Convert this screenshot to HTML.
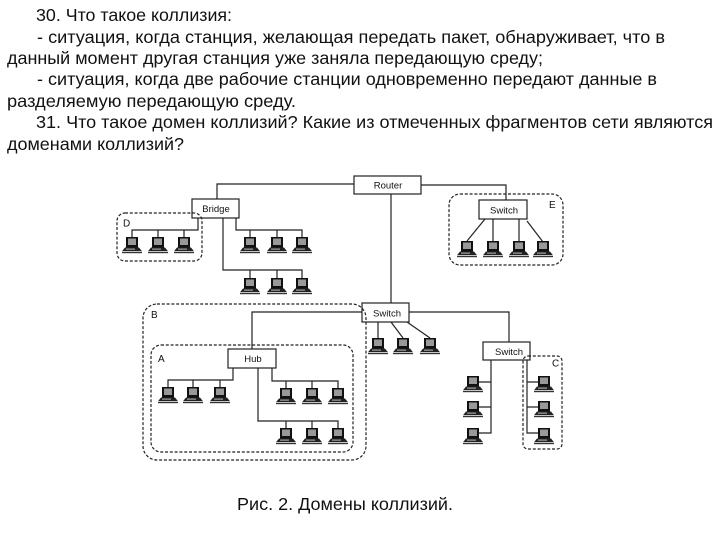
<!DOCTYPE html>
<html lang="ru">
<head>
<meta charset="utf-8">
<title>Домены коллизий</title>
<style>
html,body{margin:0;padding:0;background:#fff;width:720px;height:540px;overflow:hidden}
svg{display:block;filter:blur(.35px)}
.t{font-family:"Liberation Sans",Arial,sans-serif;font-size:17.3px;fill:#111}
.l{font-family:"Liberation Sans",Arial,sans-serif;font-size:10px;fill:#111}
.n{font-family:"Liberation Sans",Arial,sans-serif;font-size:9.5px;fill:#111;text-anchor:middle}
.w{stroke:#222;stroke-width:1.2;fill:none}
.b{stroke:#222;stroke-width:1.2;fill:#fff}
.d{stroke:#222;stroke-width:1.2;fill:none;stroke-dasharray:3 1.8}
</style>
</head>
<body>
<svg width="720" height="540" viewBox="0 0 720 540" xmlns="http://www.w3.org/2000/svg">
<defs>
<g id="pc">
<rect x="-6" y="0" width="12" height="10.5" fill="#111"/>
<rect x="-4" y="1.5" width="8" height="6.5" fill="#999"/>
<path d="M-7 10.5H7L10 14.2H-10Z" fill="#222"/>
<rect x="-6" y="11.6" width="9" height="1" fill="#bbb"/>
<rect x="-10" y="15" width="20" height="1.2" fill="#333"/>
</g>
</defs>
<rect width="720" height="540" fill="#fff"/>

<text class="t" x="36" y="21" textLength="196" lengthAdjust="spacingAndGlyphs">30. Что такое коллизия:</text>
<text class="t" x="37" y="43" textLength="628" lengthAdjust="spacingAndGlyphs">- ситуация, когда станция, желающая передать пакет, обнаруживает, что в</text>
<text class="t" x="7" y="64" textLength="536" lengthAdjust="spacingAndGlyphs">данный момент другая станция уже заняла передающую среду;</text>
<text class="t" x="37" y="85" textLength="620" lengthAdjust="spacingAndGlyphs">- ситуация, когда две рабочие станции одновременно передают данные в</text>
<text class="t" x="7" y="107" textLength="289" lengthAdjust="spacingAndGlyphs">разделяемую передающую среду.</text>
<text class="t" x="36" y="128" textLength="677" lengthAdjust="spacingAndGlyphs">31. Что такое домен коллизий? Какие из отмеченных фрагментов сети являются</text>
<text class="t" x="7" y="150" textLength="177" lengthAdjust="spacingAndGlyphs">доменами коллизий?</text>
<text class="t" x="237" y="510" textLength="216" lengthAdjust="spacingAndGlyphs">Рис. 2. Домены коллизий.</text>

<!-- connectors -->
<path class="w" d="M354 184H217V199"/>
<path class="w" d="M421 185H506V200"/>
<path class="w" d="M391 194V303"/>
<path class="w" d="M198 218V230H132V237M158 230V237M184 230V237"/>
<path class="w" d="M236 218V230H302V237M250 230V237M277 230V237"/>
<path class="w" d="M223 218V270H302V278M250 270V278M277 270V278"/>
<path class="w" d="M485 219L467 241M493 219V241M519 219V241M527 221L543 242"/>
<path class="w" d="M362 312H252V349"/>
<path class="w" d="M409 312H509V342"/>
<path class="w" d="M378 322V338M391 322L403 338M407 322L430 338"/>
<path class="w" d="M233 368V380H168V387M193 380V387M220 380V387"/>
<path class="w" d="M272 368V381H338V388M286 381V388M312 381V388"/>
<path class="w" d="M258 368V421H338V428M286 421V428M312 421V428"/>
<path class="w" d="M491 360V433H479M491 382H479M491 407H479"/>
<path class="w" d="M527 360V433H538M527 382H538M527 407H538"/>

<!-- devices -->
<rect class="b" x="354" y="176" width="67" height="18"/>
<text class="n" x="388" y="188.5">Router</text>
<rect class="b" x="192" y="199" width="47" height="19"/>
<text class="n" x="216" y="212">Bridge</text>
<rect class="b" x="479" y="200" width="48" height="19"/>
<text class="n" x="504" y="213.5">Switch</text>
<rect class="b" x="362" y="303" width="47" height="19"/>
<text class="n" x="387" y="316.5">Switch</text>
<rect class="b" x="483" y="342" width="47" height="18"/>
<text class="n" x="509" y="355">Switch</text>
<rect class="b" x="228" y="349" width="48" height="19"/>
<text class="n" x="253" y="362">Hub</text>

<!-- computers -->
<use href="#pc" x="132" y="237"/><use href="#pc" x="158" y="237"/><use href="#pc" x="184" y="237"/>
<use href="#pc" x="250" y="237"/><use href="#pc" x="277" y="237"/><use href="#pc" x="302" y="237"/>
<use href="#pc" x="250" y="278"/><use href="#pc" x="277" y="278"/><use href="#pc" x="302" y="278"/>
<use href="#pc" x="467" y="241"/><use href="#pc" x="493" y="241"/><use href="#pc" x="519" y="241"/><use href="#pc" x="543" y="241"/>
<use href="#pc" x="378" y="338"/><use href="#pc" x="403" y="338"/><use href="#pc" x="430" y="338"/>
<use href="#pc" x="168" y="387"/><use href="#pc" x="193" y="387"/><use href="#pc" x="220" y="387"/>
<use href="#pc" x="286" y="388"/><use href="#pc" x="312" y="388"/><use href="#pc" x="338" y="388"/>
<use href="#pc" x="286" y="428"/><use href="#pc" x="312" y="428"/><use href="#pc" x="338" y="428"/>
<use href="#pc" x="473" y="376"/><use href="#pc" x="473" y="401"/><use href="#pc" x="473" y="428"/>
<use href="#pc" x="544" y="376"/><use href="#pc" x="544" y="401"/><use href="#pc" x="544" y="428"/>

<!-- collision domains -->
<rect class="d" x="117" y="213" width="85" height="48" rx="8"/>
<rect class="d" x="449" y="194" width="114" height="71" rx="11"/>
<rect class="d" x="143" y="304" width="223" height="156" rx="14"/>
<rect class="d" x="151" y="345" width="202" height="107" rx="10"/>
<rect class="d" x="523" y="356" width="39" height="93" rx="5"/>

<text class="l" x="123" y="226.5">D</text>
<text class="l" x="549" y="208">E</text>
<text class="l" x="151" y="318">B</text>
<text class="l" x="158" y="362">A</text>
<text class="l" x="552" y="366.5">C</text>
</svg>
</body>
</html>
